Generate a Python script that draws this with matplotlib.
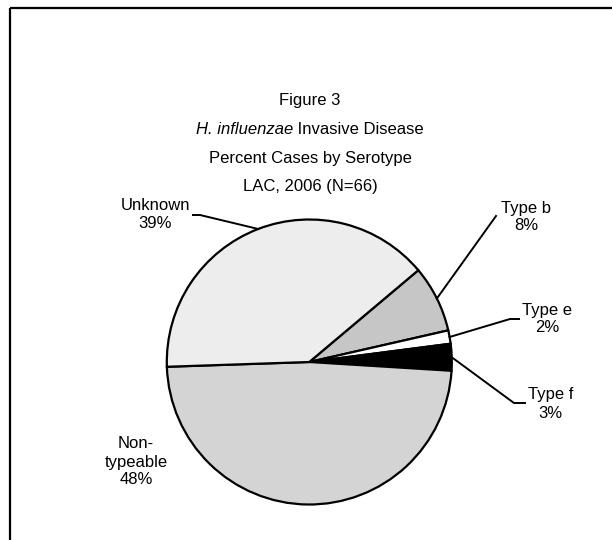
import numpy as np
import matplotlib
matplotlib.use("Agg")
import matplotlib.pyplot as plt
from matplotlib.offsetbox import TextArea, HPacker, AnchoredOffsetbox

# ---- data ----
categories = ["Type b", "Type e", "Type f", "Non-\ntypeable", "Unknown"]
counts = [5, 1, 2, 32, 26]
colors = ["#c6c6c6", "#ffffff", "#000000", "#d4d4d4", "#ededed"]
title_lines = ["Figure 3", "H. influenzae", " Invasive Disease",
               "Percent Cases by Serotype", "LAC, 2006 (N=66)"]

plt.rcParams["font.family"] = ["Liberation Sans", "DejaVu Sans"]

W, H = 612, 540
fig = plt.figure(figsize=(W / 100, H / 100), dpi=100)

# pie geometry (pixels)
cx, cy, r = 309.3, 362.0, 142.5
ax = fig.add_axes([(cx - r) / W, (H - cy - r) / H, 2 * r / W, 2 * r / H])
wedges, _ = ax.pie(counts, colors=colors, startangle=40.1, counterclock=False,
                   radius=1.0,
                   wedgeprops=dict(edgecolor="black", linewidth=1.6))
ax.set_xlim(-1.0, 1.0)
ax.set_ylim(-1.0, 1.0)
ax.set_aspect("auto")
ax.axis("off")

# overlay in pixel coordinates
ov = fig.add_axes([0, 0, 1, 1], zorder=5)
ov.set_xlim(0, W)
ov.set_ylim(H, 0)
ov.axis("off")
ov.patch.set_alpha(0)

# frame (cropped at right/bottom as in reference)
ov.plot([10, W + 5], [8, 8], color="black", lw=1.6, solid_capstyle="butt")
ov.plot([10, 10], [8, H + 5], color="black", lw=1.6, solid_capstyle="butt")

# title
fs = 12
tx = 310
title_y = [100, 129, 158, 187]
ov.text(tx, title_y[0], title_lines[0], ha="center", va="center", fontsize=fs)
ta1 = TextArea(title_lines[1], textprops=dict(fontsize=fs, style="italic"))
ta2 = TextArea(title_lines[2], textprops=dict(fontsize=fs))
pack = HPacker(children=[ta1, ta2], align="baseline", pad=0, sep=0)
ab = AnchoredOffsetbox(loc="center", child=pack, frameon=False,
                       bbox_to_anchor=(tx, title_y[1]),
                       bbox_transform=ov.transData, borderpad=0, pad=0)
ov.add_artist(ab)
ov.text(tx, title_y[2], title_lines[3], ha="center", va="center", fontsize=fs)
ov.text(tx, title_y[3], title_lines[4], ha="center", va="center", fontsize=fs)

total = sum(counts)
pct = [f"{round(100 * c / total)}%" for c in counts]

# label placements (pixels): anchor point, horizontal alignment
label_pos = {
    "Type b": (501, 217, "left"),
    "Type e": (522, 319, "left"),
    "Type f": (528, 404, "left"),
    "Non-\ntypeable": (136, 462, "center"),
    "Unknown": (190, 214, "right"),
}
leader_end = {
    "Type b": [(496, 216)],
    "Type e": [(510, 319), (519, 319)],
    "Type f": [(514, 403), (525, 403)],
    "Unknown": [(200, 215), (193, 215)],
}

for w, cat, p in zip(wedges, categories, pct):
    x, y, ha = label_pos[cat]
    ov.text(x, y, f"{cat}\n{p}", ha=ha, va="center", fontsize=fs,
            linespacing=1.25, multialignment="center")
    if cat in leader_end:
        mid = np.deg2rad((w.theta1 + w.theta2) / 2)
        px, py = cx + r * np.cos(mid), cy - r * np.sin(mid)
        pts = [(px, py)] + leader_end[cat]
        ov.plot([q[0] for q in pts], [q[1] for q in pts], color="black", lw=1.4)

fig.savefig("out.png", dpi=100)
